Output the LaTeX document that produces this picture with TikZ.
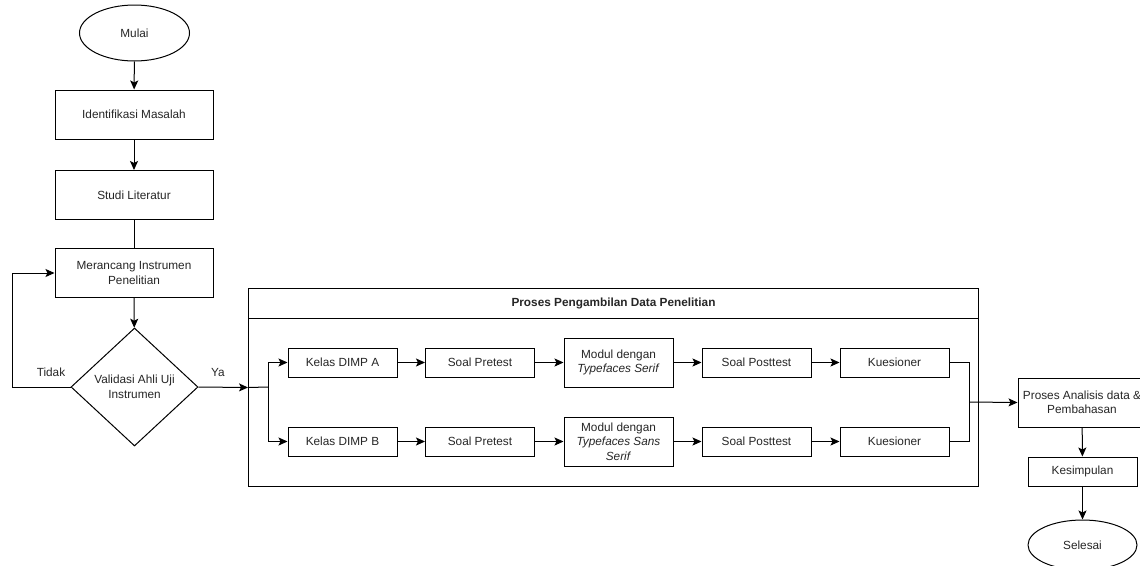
\documentclass[tikz,border=0pt]{standalone}
\usepackage{fontspec}
\setmainfont{Liberation Sans}
\usetikzlibrary{positioning}
\usetikzlibrary{arrows.meta}
\usetikzlibrary{shapes.geometric}

\begin{document}
\begin{tikzpicture}
          [
          x=1pt, y=-1pt,
          font=\fontsize{11.8}{14.5}\selectfont,
          Box/.style={rectangle, draw=black, fill=white, line width=1pt, inner sep=0pt, align=center, text=black!85, minimum width=109pt, minimum height=29pt},
          Big/.style={Box, minimum width=158pt, minimum height=49pt},
          Term/.style={ellipse, draw=black, fill=white, line width=1pt, inner sep=0pt, text=black!85, minimum width=110pt, minimum height=56pt},
          Decide/.style={diamond, draw=black, fill=white, line width=1pt, inner sep=0pt, align=center, text=black!85, minimum width=127pt, minimum height=118pt},
          Lbl/.style={text=black!85, inner sep=0pt},
          Arr/.style={-{Stealth[length=9pt, width=8pt, inset=2pt]}, draw, line width=1pt},
          Line/.style={draw, line width=1pt},
          ]
          \useasboundingbox (0,0) rectangle (1140,565);

          % Left column
          \node[Term] (Mulai) at (134.5, 33) {Mulai};
          \node[Big] (Ident) at (134, 114.5) {Identifikasi Masalah};
          \node[Big] (Studi) at (134, 195) {Studi Literatur};
          \node[Big] (Rancang) at (134, 273) {Merancang Instrumen\\Penelitian};
          \node[Decide] (Valid) at (134.5, 387) {Validasi Ahli Uji\\Instrumen};
          \node[Lbl] (Tidak) at (51, 372) {Tidak};
          \node[Lbl] (Ya) at (218, 372) {Ya};
          \coordinate (Loop) at (12, 387);

          % Data collection frame
          \node[draw, line width=1pt, anchor=north west, minimum width=730pt, minimum height=198pt] (Proc) at (248, 288) {};
          \node[draw, line width=1pt, anchor=north west, minimum width=730pt, minimum height=30pt, text=black!85] (ProcHead) at (248, 288) {\textbf{Proses Pengambilan Data Penelitian}};
          \coordinate (Split) at (268, 387);
          \coordinate (Merge) at (969, 402);

          % Row A
          \node[Box] (KelasA) at (342.5, 362.5) {Kelas DIMP A};
          \node[Box] (PreA) at (480, 362.5) {Soal Pretest};
          \node[Box, minimum height=49pt] (ModA) at (618.5, 362.5) {Modul dengan\\\textit{Typefaces Serif}};
          \node[Box] (PostA) at (756.5, 362.5) {Soal Posttest};
          \node[Box] (KuesA) at (894.5, 362.5) {Kuesioner};

          % Row B
          \node[Box] (KelasB) at (342.5, 441.5) {Kelas DIMP B};
          \node[Box] (PreB) at (480, 441.5) {Soal Pretest};
          \node[Box, minimum height=49pt] (ModB) at (618.5, 441.5) {Modul dengan\\\textit{Typefaces Sans}\\\textit{Serif}};
          \node[Box] (PostB) at (756.5, 441.5) {Soal Posttest};
          \node[Box] (KuesB) at (894.5, 441.5) {Kuesioner};

          % Right column
          \node[Box, minimum width=128pt, minimum height=49pt] (Analisis) at (1082, 402.5) {Proses Analisis data \&\\Pembahasan};
          \node[Box] (Simpul) at (1082.5, 471.5) {Kesimpulan};
          \node[Term, minimum width=109pt, minimum height=50pt] (Selesai) at (1082.5, 545) {Selesai};

          % Lines
          \path [Arr] (Mulai) -- (Ident);
          \path [Arr] (Ident) -- (Studi);
          \path [Line] (Studi) -- (Rancang);
          \path [Arr] (Rancang) -- (Valid);
          \path [Arr] (Valid.west) -- (Loop) |- (Rancang.west);
          \path [Arr] (Valid.east) -- (Proc.west);
          \path [Line] (Proc.west) -- (Split);
          \path [Arr] (Split) |- (KelasA.west);
          \path [Arr] (Split) |- (KelasB.west);
          \path [Arr] (KelasA) -- (PreA);
          \path [Arr] (PreA) -- (ModA);
          \path [Arr] (ModA) -- (PostA);
          \path [Arr] (PostA) -- (KuesA);
          \path [Arr] (KelasB) -- (PreB);
          \path [Arr] (PreB) -- (ModB);
          \path [Arr] (ModB) -- (PostB);
          \path [Arr] (PostB) -- (KuesB);
          \path [Line] (KuesA.east) -| (Merge);
          \path [Line] (KuesB.east) -| (Merge);
          \path [Arr] (Merge) -- (Analisis.west);
          \path [Arr] (Analisis) -- (Simpul);
          \path [Arr] (Simpul) -- (Selesai);

        \end{tikzpicture}
\end{document}
